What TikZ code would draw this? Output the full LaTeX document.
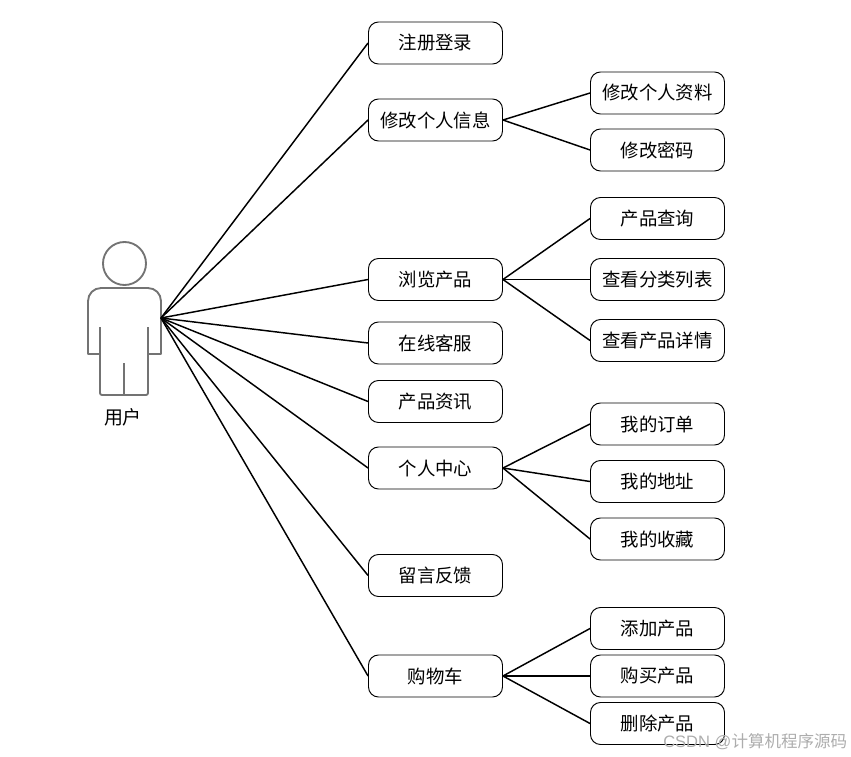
\documentclass[tikz,border=0pt]{standalone}
\usepackage{fontspec}
\setmainfont{Noto Sans CJK SC}
\setsansfont{Liberation Sans}
\newfontfamily\cjkfont{Noto Sans CJK SC}
\begin{document}
\begin{tikzpicture}[x=0.75pt,y=-0.75pt,
  box/.style={draw=black,line width=0.7pt,rounded corners=7.5pt,minimum width=100.5pt,minimum height=31.5pt,inner sep=0pt,font=\cjkfont\fontsize{13.8}{16}\selectfont,fill=white},
  link/.style={draw=black,line width=1.1pt},
  figure/.style={draw=black!55,line width=1.4pt,line join=round}]
\useasboundingbox (0,0) rectangle (851,757);
% actor
\draw[figure] (124.5,263.5) circle[radius=21.5];
\draw[figure] (100,354) -- (88,354) -- (88,301) arc[start angle=180,end angle=270,radius=13] -- (148,288) arc[start angle=270,end angle=360,radius=13] -- (161,354) -- (148,354);
\draw[figure,rounded corners=1.5pt] (100,327) -- (100,395) -- (148,395) -- (148,327);
\draw[figure] (124,363) -- (124,395);
\coordinate (hand) at (161,318);
\node[font=\cjkfont\fontsize{14.2}{16}\selectfont] (actorlabel) at (123,417.5) {用户};
% level 1
\node[box] (a) at (435.5,43) {注册登录};
\node[box] (b) at (435.5,120) {修改个人信息};
\node[box] (c) at (435.5,279.5) {浏览产品};
\node[box] (d) at (435.5,343) {在线客服};
\node[box] (e) at (435.5,401.5) {产品资讯};
\node[box] (f) at (435.5,468) {个人中心};
\node[box] (g) at (435.5,575.5) {留言反馈};
\node[box] (h) at (435.5,676) {购物车};
% level 2
\node[box] (b1) at (657.5,93) {修改个人资料};
\node[box] (b2) at (657.5,150) {修改密码};
\node[box] (c1) at (657.5,218.5) {产品查询};
\node[box] (c2) at (657.5,279.5) {查看分类列表};
\node[box] (c3) at (657.5,340.5) {查看产品详情};
\node[box] (f1) at (657.5,424) {我的订单};
\node[box] (f2) at (657.5,481.5) {我的地址};
\node[box] (f3) at (657.5,539) {我的收藏};
\node[box] (h1) at (657.5,628.5) {添加产品};
\node[box] (h2) at (657.5,676) {购买产品};
\node[box] (h3) at (657.5,723.5) {删除产品};
% connectors
\foreach \t in {a,b,c,d,e,f,g,h} \draw[link] (hand) -- (\t.west);
\foreach \t in {b1,b2} \draw[link] (b.east) -- (\t.west);
\foreach \t in {c1,c2,c3} \draw[link] (c.east) -- (\t.west);
\foreach \t in {f1,f2,f3} \draw[link] (f.east) -- (\t.west);
\foreach \t in {h1,h2,h3} \draw[link] (h.east) -- (\t.west);
% watermark
\node[anchor=east,text=black!32,inner sep=0pt,font=\fontsize{12.4}{14}\selectfont] (mark) at (847.5,742) {{\sffamily CSDN @}{\cjkfont 计算机程序源码}};
\end{tikzpicture}
\end{document}
